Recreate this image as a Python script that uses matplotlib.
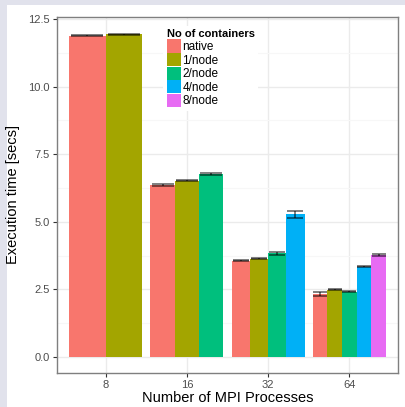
import numpy as np
import matplotlib
matplotlib.use("Agg")
import matplotlib.pyplot as plt
from matplotlib.patches import Patch, Rectangle
from matplotlib.ticker import MultipleLocator

plt.rcParams['font.family'] = ['Liberation Sans', 'DejaVu Sans']

# Mean execution times per container setting (nan = not run)
procs = ['8', '16', '32', '64']
series = ['native', '1/node', '2/node', '4/node', '8/node']
native = [11.87, 6.36, 3.56, 2.33]
one_node = [11.94, 6.52, 3.64, 2.49]
two_node = [np.nan, 6.78, 3.83, 2.41]
four_node = [np.nan, np.nan, 5.27, 3.33]
eight_node = [np.nan, np.nan, np.nan, 3.77]

native_err = [0.02, 0.02, 0.02, 0.065]
one_node_err = [0.02, 0.02, 0.02, 0.03]
two_node_err = [np.nan, 0.04, 0.04, 0.02]
four_node_err = [np.nan, np.nan, 0.14, 0.02]
eight_node_err = [np.nan, np.nan, np.nan, 0.04]

values = [native, one_node, two_node, four_node, eight_node]
errors = [native_err, one_node_err, two_node_err, four_node_err, eight_node_err]
colors = ['#F8766D', '#A3A500', '#00BF7D', '#00B0F6', '#E76BF3']

fig = plt.figure(figsize=(4.05, 4.07), dpi=100, facecolor='#e1e2ec')
fig.patches.append(Rectangle((7 / 405, 0), 1, 1 - 5 / 407, transform=fig.transFigure,
                             facecolor='white', edgecolor='none', zorder=-10))
ax = fig.add_axes([57 / 405, 34 / 407, 341 / 405, 356 / 407])

# dodge bars within each group: the group always spans 0.9
for i, p in enumerate(procs):
    present = [k for k in range(len(series)) if not np.isnan(values[k][i])]
    n = len(present)
    w = 0.9 / n
    for j, k in enumerate(present):
        xc = i - 0.45 + (j + 0.5) * w
        ax.bar(xc, values[k][i], width=w, color=colors[k], zorder=2)
        ax.errorbar(xc, values[k][i], yerr=errors[k][i], fmt='none', ecolor='black',
                    alpha=0.5, elinewidth=1.4, capsize=w * 0.9 * 81.2 / 2 * 0.72,
                    capthick=1.4, zorder=3)

ax.set_xlim(-0.6, 3.6)
ax.set_ylim(-0.59, 12.57)
ax.set_xticks(range(len(procs)))
ax.set_xticklabels(procs)
ax.yaxis.set_major_locator(MultipleLocator(2.5))
ax.yaxis.set_minor_locator(MultipleLocator(1.25))
ax.set_yticks(np.arange(0, 12.6, 2.5))
ax.set_yticklabels(['0.0', '2.5', '5.0', '7.5', '10.0', '12.5'])

ax.grid(which='major', color='#ebebeb', linewidth=1.0, zorder=0)
ax.grid(which='minor', axis='y', color='#f7f7f7', linewidth=0.8, zorder=0)
ax.set_axisbelow(True)
ax.tick_params(which='major', length=3, width=0.8, color='#333333',
               labelsize=8, labelcolor='#4d4d4d', pad=2)
ax.tick_params(which='minor', length=0)
for s in ax.spines.values():
    s.set_color('#7f7f7f')
    s.set_linewidth(1.0)

ax.set_xlabel('Number of MPI Processes', fontsize=10.5, labelpad=1)
ax.set_ylabel('Execution time [secs]', fontsize=10.5, labelpad=6)

handles = [Patch(facecolor=c, edgecolor='none', label=s) for c, s in zip(colors, series)]
leg = ax.legend(handles=handles, title='No of containers', loc='upper left',
                bbox_to_anchor=(0.311, 0.975), fontsize=8.5, frameon=True,
                facecolor='white', edgecolor='none', framealpha=1,
                handlelength=1.2, handleheight=1.35, handletextpad=0.15,
                labelspacing=0.0, borderpad=0.3, borderaxespad=0,
                title_fontproperties={'weight': 'bold', 'size': 8},
                alignment='left')
leg.get_frame().set_boxstyle('square', pad=0)

fig.savefig('out.png', dpi=100, facecolor=fig.get_facecolor())
